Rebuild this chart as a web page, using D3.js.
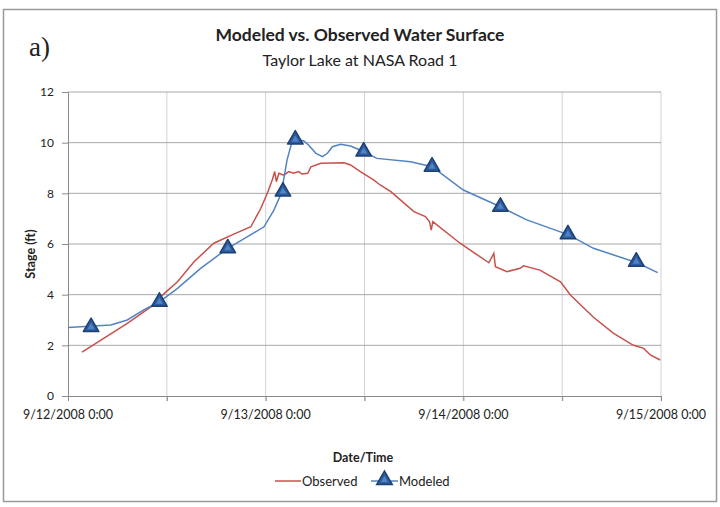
<!DOCTYPE html>
<html lang="en">
<head>
<meta charset="utf-8">
<title>Modeled vs. Observed Water Surface</title>
<script src="https://d3js.org/d3.v7.min.js"></script>
<style type="text/css">
  body { margin: 0; background: #fff; }
  svg text { font-family: Lato, "Liberation Sans", sans-serif; fill: #222; }
</style>
</head>
<body>
<script type="text/javascript">
// data: hours after 9/12/2008 0:00 and stage (ft)
var obsHours = [1.7, 7.2, 10.1, 11.7, 13.3, 15.3, 17.7, 20.2, 22.2, 23.4, 24.2, 24.8, 25.1, 25.3, 25.6, 26.2, 26.8, 27.4, 28.0, 28.4, 29.1, 29.5, 30.7, 33.5, 34.3, 35.5, 37.1, 37.9, 39.2, 42.0, 43.4, 43.9, 44.1, 44.3, 47.6, 51.1, 51.7, 51.9, 53.3, 54.9, 55.3, 57.3, 59.8, 61.0, 63.8, 66.2, 68.6, 69.9, 70.7, 71.9];
var obsStage = [1.73, 2.87, 3.53, 4.05, 4.51, 5.30, 6.03, 6.40, 6.68, 7.40, 8.00, 8.53, 8.86, 8.46, 8.79, 8.72, 8.86, 8.79, 8.86, 8.76, 8.79, 9.05, 9.19, 9.21, 9.12, 8.86, 8.53, 8.33, 8.07, 7.28, 7.08, 6.88, 6.55, 6.88, 6.03, 5.26, 5.63, 5.10, 4.91, 5.04, 5.14, 4.97, 4.51, 3.99, 3.11, 2.48, 2.01, 1.88, 1.62, 1.42];

var modHours = [0, 5.2, 7.2, 9.2, 11.1, 13.3, 16.1, 19.4, 21.8, 23.8, 25.0, 25.9, 26.6, 27.2, 27.8, 28.6, 29.2, 30.1, 30.9, 31.5, 32.1, 33.1, 34.3, 35.9, 37.5, 41.6, 44.2, 48.0, 52.5, 55.7, 60.8, 63.8, 69.1, 71.6];
var modStage = [2.70, 2.80, 3.00, 3.40, 3.72, 4.25, 5.04, 5.83, 6.29, 6.68, 7.34, 8.00, 9.32, 10.04, 10.10, 10.08, 9.91, 9.58, 9.45, 9.58, 9.84, 9.94, 9.87, 9.65, 9.38, 9.25, 9.05, 8.13, 7.47, 6.95, 6.36, 5.83, 5.26, 4.87];

var markerHours = [2.8, 11.1, 19.4, 26.1, 27.6, 35.9, 44.2, 52.5, 60.7, 69.0];
var markerStage = [2.72, 3.72, 5.83, 8.07, 10.12, 9.65, 9.05, 7.47, 6.38, 5.30];

var yTicks = [0, 2, 4, 6, 8, 10, 12];
var xLabels = ["9/12/2008 0:00", "9/13/2008 0:00", "9/14/2008 0:00", "9/15/2008 0:00"];

var w = 720, h = 507;
var start = new Date(2008, 8, 12, 0, 0);
var end = new Date(2008, 8, 15, 0, 0);
function toDate(hr) { return new Date(start.getTime() + hr * 3600000); }

var x = d3.scaleTime().domain([start, end]).range([68, 661]);
var y = d3.scaleLinear().domain([0, 12]).range([396, 92]);

var svg = d3.select("body").append("svg")
  .attr("width", w)
  .attr("height", h);

// frame
svg.append("rect")
  .attr("x", 3.5).attr("y", 9.5)
  .attr("width", 713).attr("height", 492)
  .attr("fill", "#fff")
  .attr("stroke", "#9a9a9a")
  .attr("stroke-width", 1.5);

// titles
svg.append("text")
  .attr("x", 360).attr("y", 41)
  .attr("text-anchor", "middle")
  .style("font-size", "17.5px").style("font-weight", "bold")
  .text("Modeled vs. Observed Water Surface");
svg.append("text")
  .attr("x", 360).attr("y", 66)
  .attr("text-anchor", "middle")
  .style("font-size", "16px")
  .text("Taylor Lake at NASA Road 1");
svg.append("text")
  .attr("x", 29).attr("y", 56)
  .style("font-family", "'Liberation Serif', serif")
  .style("font-size", "27px")
  .text("a)");

// gridlines
var gridTimes = d3.range(0, 73, 12).map(toDate);
svg.append("g").selectAll("line")
  .data(gridTimes.slice(1))
  .enter().append("line")
  .attr("x1", function(d) { return x(d); })
  .attr("x2", function(d) { return x(d); })
  .attr("y1", y(12)).attr("y2", y(0) + 5)
  .attr("stroke", "#d2d2d2");
svg.append("g").selectAll("line")
  .data(yTicks.slice(1))
  .enter().append("line")
  .attr("x1", x.range()[0]).attr("x2", x.range()[1])
  .attr("y1", function(d) { return y(d); })
  .attr("y2", function(d) { return y(d); })
  .attr("stroke", "#a8a8a8");

// y axis
var yAxis = d3.axisLeft(y).tickValues(yTicks).tickSize(6).tickPadding(8);
var gy = svg.append("g").attr("transform", "translate(" + x.range()[0] + ",0)").call(yAxis);
gy.select(".domain").attr("stroke", "#8a8a8a");
gy.selectAll(".tick line").attr("stroke", "#8a8a8a");
gy.selectAll(".tick text").style("font-size", "12px").style("font-family", "Lato, sans-serif").attr("fill", "#333");

// x axis
var xAxis = d3.axisBottom(x).tickValues(gridTimes).tickSize(5).tickFormat("");
var gx = svg.append("g").attr("transform", "translate(0," + y(0) + ")").call(xAxis);
gx.select(".domain").attr("stroke", "#8a8a8a");
gx.selectAll(".tick line").attr("stroke", "#8a8a8a");

svg.append("g").selectAll("text")
  .data(xLabels)
  .enter().append("text")
  .attr("x", function(d, i) { return x(toDate(i * 24)); })
  .attr("y", 419)
  .attr("text-anchor", "middle")
  .style("font-size", "12.5px")
  .text(function(d) { return d; });

svg.append("text")
  .attr("transform", "translate(35,254) rotate(-90)")
  .attr("text-anchor", "middle")
  .style("font-size", "12.5px").style("font-weight", "bold")
  .text("Stage (ft)");
svg.append("text")
  .attr("x", 363).attr("y", 462)
  .attr("text-anchor", "middle")
  .style("font-size", "12.5px").style("font-weight", "bold")
  .text("Date/Time");

// series
var line = d3.line()
  .x(function(d) { return x(toDate(d[0])); })
  .y(function(d) { return y(d[1]); });

svg.append("path")
  .datum(d3.zip(obsHours, obsStage))
  .attr("d", line)
  .attr("fill", "none")
  .attr("stroke", "#C8504B")
  .attr("stroke-width", 1.5);

svg.append("path")
  .datum(d3.zip(modHours, modStage))
  .attr("d", line)
  .attr("fill", "none")
  .attr("stroke", "#5283C2")
  .attr("stroke-width", 1.5);

var tri = d3.symbol().type(d3.symbolTriangle).size(105);
var triInner = d3.symbol().type(d3.symbolTriangle).size(22);
var mk = svg.append("g").selectAll("g")
  .data(d3.zip(markerHours, markerStage))
  .enter().append("g")
  .attr("transform", function(d) { return "translate(" + x(toDate(d[0])) + "," + y(d[1]) + ")"; });
mk.append("path").attr("d", tri).attr("fill", "#2D5C9C").attr("stroke", "#1E3F73").attr("stroke-width", 1.5).attr("stroke-linejoin", "round");
mk.append("path").attr("d", triInner).attr("fill", "#4F83C6");

// legend
var lg = svg.append("g");
lg.append("line").attr("x1", 275).attr("x2", 301).attr("y1", 481).attr("y2", 481)
  .attr("stroke", "#C8504B").attr("stroke-width", 1.5);
lg.append("text").attr("x", 302).attr("y", 486).style("font-size", "13px").text("Observed");
lg.append("line").attr("x1", 371).attr("x2", 398).attr("y1", 481).attr("y2", 481)
  .attr("stroke", "#5283C2").attr("stroke-width", 1.5);
var lm = lg.append("g").attr("transform", "translate(384.5,480)");
lm.append("path").attr("d", tri).attr("fill", "#2D5C9C").attr("stroke", "#1E3F73").attr("stroke-width", 1.5);
lm.append("path").attr("d", triInner).attr("fill", "#4F83C6");
lg.append("text").attr("x", 399).attr("y", 486).style("font-size", "13px").text("Modeled");
</script>
</body>
</html>
